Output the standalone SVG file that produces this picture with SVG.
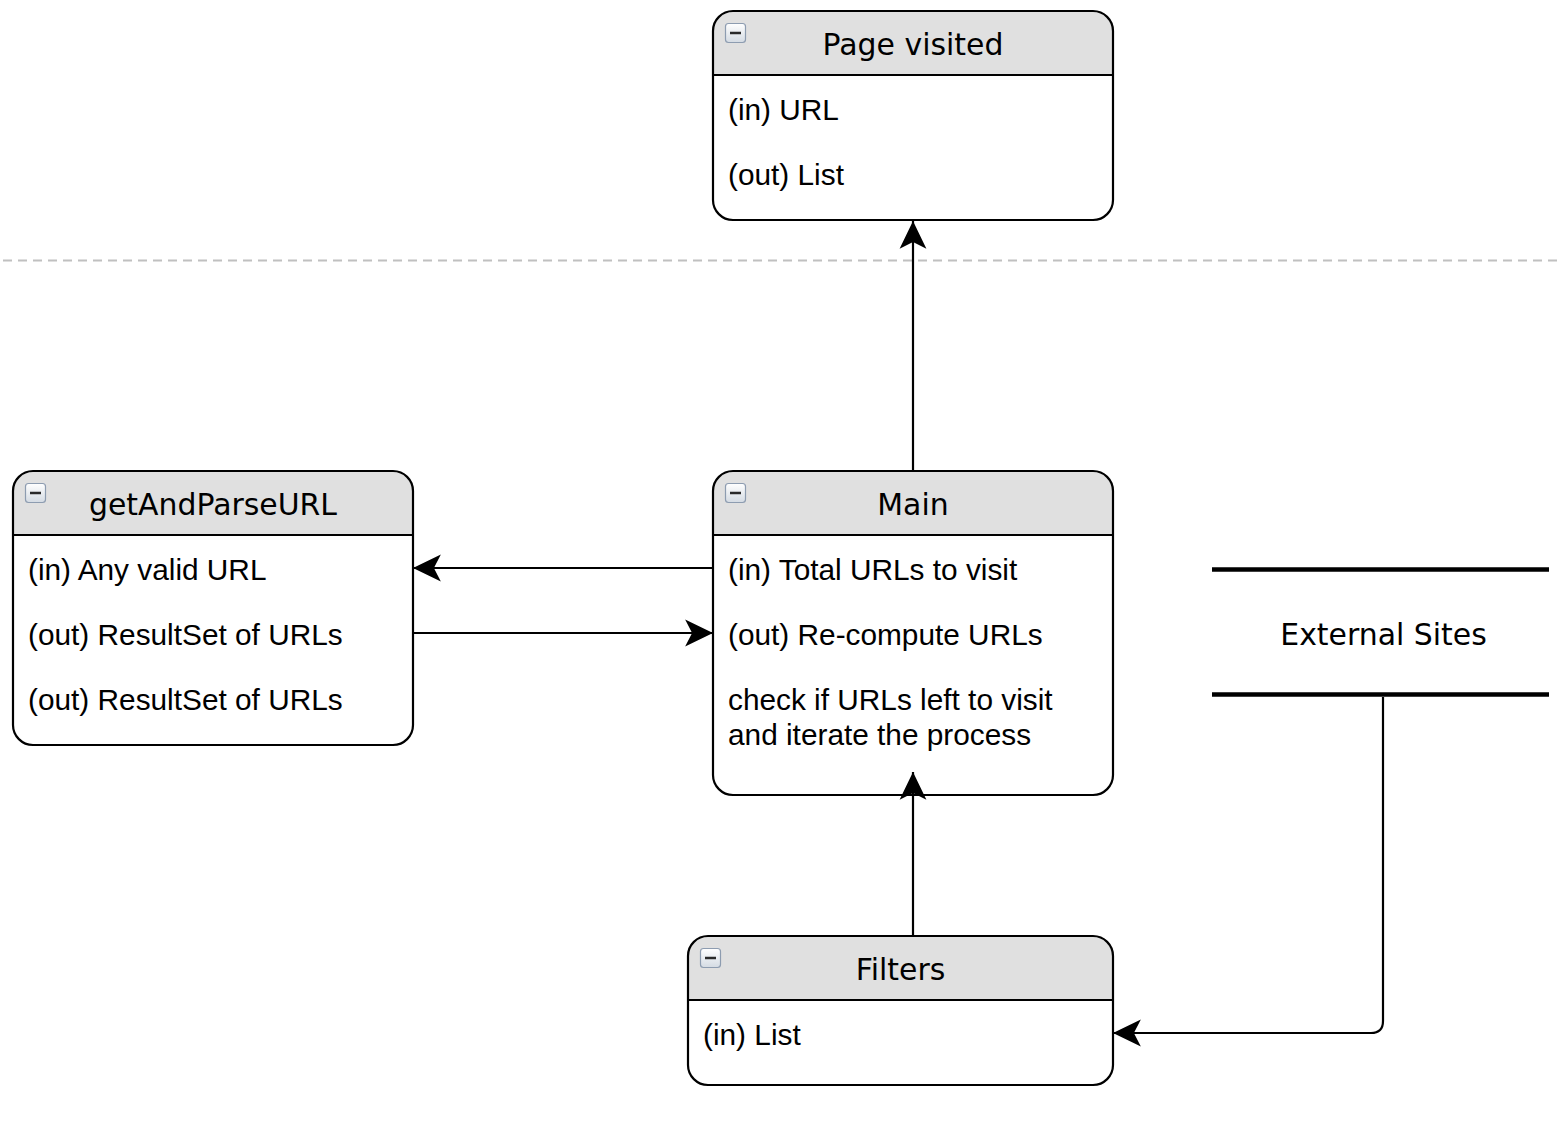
<svg xmlns="http://www.w3.org/2000/svg" width="1557" height="1124" viewBox="0 0 1557 1124">
<style>
.box{fill:#ffffff;stroke:none}
.outline{fill:none;stroke:#000000;stroke-width:2.2}
.hdr{fill:#e0e0e0;stroke:none}
.sep{stroke:#000000;stroke-width:2.2}
.title{font-family:"DejaVu Sans",Verdana,sans-serif;font-size:29.9px;fill:#000000;text-anchor:middle}
.item{font-family:"Liberation Sans",Arial,sans-serif;font-size:29.8px;fill:#000000}
.edge{fill:none;stroke:#000000;stroke-width:2.2}
.icon{fill:url(#ig);stroke:#8d9cb0;stroke-width:1.2}
.minus{stroke:#2a2a2a;stroke-width:2.5}
</style>
<defs>
<linearGradient id="ig" x1="0" y1="0" x2="0" y2="1">
<stop offset="0" stop-color="#ffffff"/>
<stop offset="1" stop-color="#d4dbe3"/>
</linearGradient>
<marker id="arr" markerUnits="userSpaceOnUse" markerWidth="30" markerHeight="30" viewBox="-27 -14 28 28" refX="0" refY="0" orient="auto" overflow="visible">
<path d="M0,0 L-26,-12.5 L-19.5,0 L-26,12.5 Z" fill="#000000"/>
</marker>
</defs>

<line x1="3" y1="260.5" x2="1557" y2="260.5" stroke="#c0c0c0" stroke-width="2" stroke-dasharray="9 6"/>

<g id="page-visited">
<rect class="box" x="713" y="11" width="400" height="209" rx="20"/>
<path class="hdr" d="M713,75 V31 A20,20 0 0 1 733,11 H1093 A20,20 0 0 1 1113,31 V75 Z"/>
<line class="sep" x1="713" y1="75" x2="1113" y2="75"/>
<rect class="outline" x="713" y="11" width="400" height="209" rx="20"/>
<rect class="icon" x="725.5" y="23.5" width="20" height="19" rx="3"/>
<line class="minus" x1="730" y1="33" x2="741" y2="33"/>
<text class="title" x="913" y="55">Page visited</text>
<text class="item" x="728" y="120">(in) URL</text>
<text class="item" x="728" y="185">(out) List</text>
</g>

<g id="getAndParseURL">
<rect class="box" x="13" y="471" width="400" height="274" rx="20"/>
<path class="hdr" d="M13,535 V491 A20,20 0 0 1 33,471 H393 A20,20 0 0 1 413,491 V535 Z"/>
<line class="sep" x1="13" y1="535" x2="413" y2="535"/>
<rect class="outline" x="13" y="471" width="400" height="274" rx="20"/>
<rect class="icon" x="25.5" y="483.5" width="20" height="19" rx="3"/>
<line class="minus" x1="30" y1="493" x2="41" y2="493"/>
<text class="title" x="213" y="515">getAndParseURL</text>
<text class="item" x="28" y="580">(in) Any valid URL</text>
<text class="item" x="28" y="645">(out) ResultSet of URLs</text>
<text class="item" x="28" y="710">(out) ResultSet of URLs</text>
</g>

<g id="main">
<rect class="box" x="713" y="471" width="400" height="324" rx="20"/>
<path class="hdr" d="M713,535 V491 A20,20 0 0 1 733,471 H1093 A20,20 0 0 1 1113,491 V535 Z"/>
<line class="sep" x1="713" y1="535" x2="1113" y2="535"/>
<rect class="outline" x="713" y="471" width="400" height="324" rx="20"/>
<rect class="icon" x="725.5" y="483.5" width="20" height="19" rx="3"/>
<line class="minus" x1="730" y1="493" x2="741" y2="493"/>
<text class="title" x="913" y="515">Main</text>
<text class="item" x="728" y="580">(in) Total URLs to visit</text>
<text class="item" x="728" y="645">(out) Re-compute URLs</text>
<text class="item" x="728" y="710">check if URLs left to visit</text>
<text class="item" x="728" y="745">and iterate the process</text>
</g>

<g id="filters">
<rect class="box" x="688" y="936" width="425" height="149" rx="20"/>
<path class="hdr" d="M688,1000 V956 A20,20 0 0 1 708,936 H1093 A20,20 0 0 1 1113,956 V1000 Z"/>
<line class="sep" x1="688" y1="1000" x2="1113" y2="1000"/>
<rect class="outline" x="688" y="936" width="425" height="149" rx="20"/>
<rect class="icon" x="700.5" y="948.5" width="20" height="19" rx="3"/>
<line class="minus" x1="705" y1="958" x2="716" y2="958"/>
<text class="title" x="900.5" y="980">Filters</text>
<text class="item" x="703" y="1045">(in) List</text>
</g>

<g id="external-sites">
<line x1="1212" y1="569.5" x2="1549" y2="569.5" stroke="#000000" stroke-width="4.5"/>
<line x1="1212" y1="694.5" x2="1549" y2="694.5" stroke="#000000" stroke-width="4.5"/>
<text class="title" x="1383.5" y="644.5">External Sites</text>
</g>

<g id="connectors">
<line class="edge" x1="913" y1="471" x2="913" y2="221" marker-end="url(#arr)"/>
<line class="edge" x1="713" y1="568" x2="413" y2="568" marker-end="url(#arr)"/>
<line class="edge" x1="413" y1="633" x2="713" y2="633" marker-end="url(#arr)"/>
<line class="edge" x1="913" y1="936" x2="913" y2="772" marker-end="url(#arr)"/>
<path class="edge" d="M1383,697 V1021 Q1383,1033 1371,1033 H1113" marker-end="url(#arr)"/>
</g>
</svg>
